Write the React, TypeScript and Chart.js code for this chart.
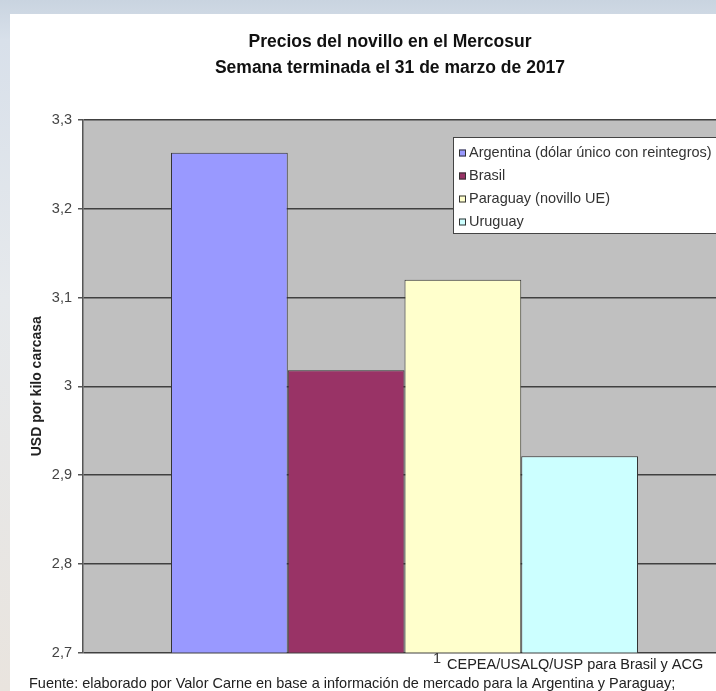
import { useEffect, useRef } from "react";
import { Chart, registerables } from "chart.js";

Chart.register(...registerables);

// ---- data ----
const categories = ["1"];
const seriesNames = [
  "Argentina (dólar único con reintegros)",
  "Brasil",
  "Paraguay (novillo UE)",
  "Uruguay",
];
const seriesValues = [3.263, 3.018, 3.12, 2.921];
const seriesColors = ["#9999ff", "#993366", "#ffffcc", "#ccffff"];
const yTicks = [2.7, 2.8, 2.9, 3.0, 3.1, 3.2, 3.3];
const titleLines = [
  "Precios del novillo en el Mercosur",
  "Semana terminada el 31 de marzo de 2017",
];
const yAxisTitle = "USD por kilo carcasa";
const sourceLines = [
  "CEPEA/USALQ/USP para Brasil y ACG",
  "Fuente: elaborado por Valor Carne en base a información de mercado para la Argentina y Paraguay;",
];

const FONT = 'Arial, "Liberation Sans", sans-serif';

const decor = {
  id: "decor",
  beforeDraw(chart: any) {
    const { ctx, chartArea: a } = chart;
    ctx.save();
    ctx.fillStyle = "#c0c0c0";
    ctx.fillRect(a.left, a.top, a.right - a.left, a.bottom - a.top);
    ctx.restore();
  },
  afterDraw(chart: any) {
    const { ctx } = chart;
    ctx.save();
    // title
    ctx.fillStyle = "#111";
    ctx.font = `bold 17.5px ${FONT}`;
    ctx.textAlign = "center";
    ctx.textBaseline = "middle";
    titleLines.forEach((t, i) => ctx.fillText(t, 390, 42 + i * 26));

    // legend
    const lx = 453;
    const ly = 137;
    const lw = 300;
    const lh = 96;
    ctx.fillStyle = "#ffffff";
    ctx.fillRect(lx, ly, lw, lh);
    ctx.strokeStyle = "#444";
    ctx.lineWidth = 1;
    ctx.strokeRect(lx + 0.5, ly + 0.5, lw, lh);
    ctx.font = `14.5px ${FONT}`;
    ctx.textAlign = "left";
    ctx.textBaseline = "middle";
    chart.data.datasets.forEach((ds: any, i: number) => {
      const cy = ly + 16 + i * 23;
      ctx.fillStyle = ds.backgroundColor;
      ctx.fillRect(lx + 6, cy - 3.5, 7, 7);
      ctx.strokeStyle = "#333";
      ctx.strokeRect(lx + 6.5, cy - 3, 6, 6);
      ctx.fillStyle = "#333";
      ctx.fillText(ds.label, lx + 16, cy);
    });

    // sources
    ctx.fillStyle = "#222";
    ctx.font = `14.5px ${FONT}`;
    ctx.fillText(sourceLines[0], 447, 665);
    ctx.fillText(sourceLines[1], 29, 684);
    ctx.restore();
  },
};

export default function App() {
  const ref = useRef<HTMLCanvasElement | null>(null);

  useEffect(() => {
    document.body.style.margin = "0";
    document.body.style.overflow = "hidden";
    if (!ref.current) return;
    const chart = new Chart(ref.current, {
      type: "bar",
      data: {
        labels: categories,
        datasets: seriesNames.map((name, i) => ({
          label: name,
          data: [seriesValues[i]],
          backgroundColor: seriesColors[i],
          borderColor: "#333333",
          borderWidth: 1,
          categoryPercentage: 0.7263,
          barPercentage: 1,
        })),
      },
      options: {
        responsive: false,
        maintainAspectRatio: false,
        animation: false,
        events: [],
        layout: { padding: { top: 120, right: 74, bottom: 18.5, left: 0 } },
        plugins: {
          legend: { display: false },
          title: { display: false },
          tooltip: { enabled: false },
        },
        scales: {
          x: {
            type: "category",
            grid: { display: false, drawTicks: false },
            border: { display: false },
            ticks: {
              color: "#333",
              font: { family: FONT, size: 14.5 },
              padding: -2,
              labelOffset: 32.5,
              maxRotation: 0,
            },
            afterFit(scale: any) {
              scale.height = 20;
            },
          },
          y: {
            type: "linear",
            min: 2.7,
            max: 3.3,
            afterBuildTicks(scale: any) {
              scale.ticks = yTicks.map((v) => ({ value: v }));
            },
            afterFit(scale: any) {
              scale.width = 83;
            },
            grid: {
              color: "#404040",
              lineWidth: 1.5,
              drawTicks: true,
              tickLength: 5,
              tickColor: "#555",
            },
            border: { display: true, color: "#555", width: 1.5 },
            ticks: {
              color: "#444",
              font: { family: FONT, size: 14.5 },
              padding: 6,
              callback: (v: any) =>
                Number(v).toLocaleString("es", { maximumFractionDigits: 1 }),
            },
            title: {
              display: true,
              text: yAxisTitle,
              color: "#222",
              font: { family: FONT, size: 14, weight: "bold" },
              padding: { top: 28.5, bottom: 0 },
            },
          },
        },
      },
      plugins: [decor],
    });
    return () => chart.destroy();
  }, []);

  return (
    <div
      style={{
        position: "relative",
        width: 716,
        height: 691,
        overflow: "hidden",
        background:
          "linear-gradient(180deg, #c9d4e0 0px, #d8e0ea 40px, #e6e9ec 300px, #e9e4de 691px)",
      }}
    >
      <div
        style={{
          position: "absolute",
          left: 10,
          top: 14,
          right: 0,
          bottom: 0,
          background: "#ffffff",
        }}
      />
      <canvas
        ref={ref}
        width={800}
        height={691}
        style={{ position: "absolute", left: 0, top: 0 }}
      />
    </div>
  );
}
